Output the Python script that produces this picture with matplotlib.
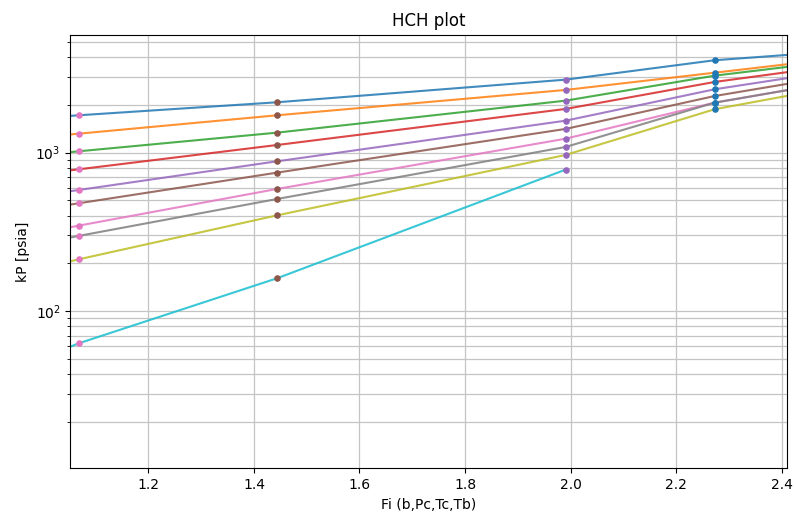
import matplotlib
matplotlib.use('Agg')
import matplotlib.pyplot as plt
import numpy as np

# Fi values where the points sit, plus the axis-edge ends of the lines
fi_pts = [1.068, 1.444, 1.9905, 2.273]
fi_left = 1.052
fi_right = 2.4095

# kP [psia] per curve at fi_pts (cyan curve stops at the third point)
kp_curves = [
    [1722, 2081, 2891, 3834],
    [1318, 1722, 2489, 3199],
    [1020, 1338, 2130, 3064],
    [785, 1118, 1888, 2796],
    [581, 882, 1592, 2513],
    [479, 748, 1412, 2279],
    [346, 590, 1225, 2069],
    [298, 510, 1086, 2069],
    [212, 402, 967, 1880],
    [62.5, 161, 781],
]
# values where each line meets the left / right spine
kp_left = [1708, 1303, 1008, 773, 571, 470, 338, 291, 206, 59.5]
kp_right = [4141, 3615, 3478, 3222, 2951, 2716, 2479, 2479, 2281, np.nan]

LINE_COLORS = ['#1f77b4', '#ff7f0e', '#2ca02c', '#d62728', '#9467bd',
               '#8c564b', '#e377c2', '#7f7f7f', '#bcbd22', '#17becf']
# the dots in each Fi column share one colour
DOT_COLORS = ['#e377c2', '#8c564b', '#9467bd', '#1f77b4']

fig = plt.figure(figsize=(7.96, 5.17), dpi=100)
ax = fig.add_axes([0.0883, 0.0942, 0.9, 0.8387])

for i, kp in enumerate(kp_curves):
    xs = [fi_left] + fi_pts[:len(kp)]
    ys = [kp_left[i]] + kp
    if len(kp) == len(fi_pts):
        xs.append(fi_right)
        ys.append(kp_right[i])
    ax.plot(xs, ys, color=LINE_COLORS[i], lw=1.5, alpha=0.85, zorder=2)

for j, x in enumerate(fi_pts):
    col = [kp[j] for kp in kp_curves if len(kp) > j]
    ax.scatter([x] * len(col), col, color=DOT_COLORS[j], s=14, zorder=3)

ax.set_yscale('log')
ax.set_xlim(fi_left, fi_right)
ax.set_ylim(10.15, 5560)
ax.grid(True, which='both', color='#c4c4c4', lw=0.9)
ax.set_axisbelow(True)

ax.set_title('HCH plot', fontsize=12)
ax.set_xlabel('Fi (b,Pc,Tc,Tb)')
ax.set_ylabel('kP [psia]')

fig.savefig('out.png', dpi=100)
